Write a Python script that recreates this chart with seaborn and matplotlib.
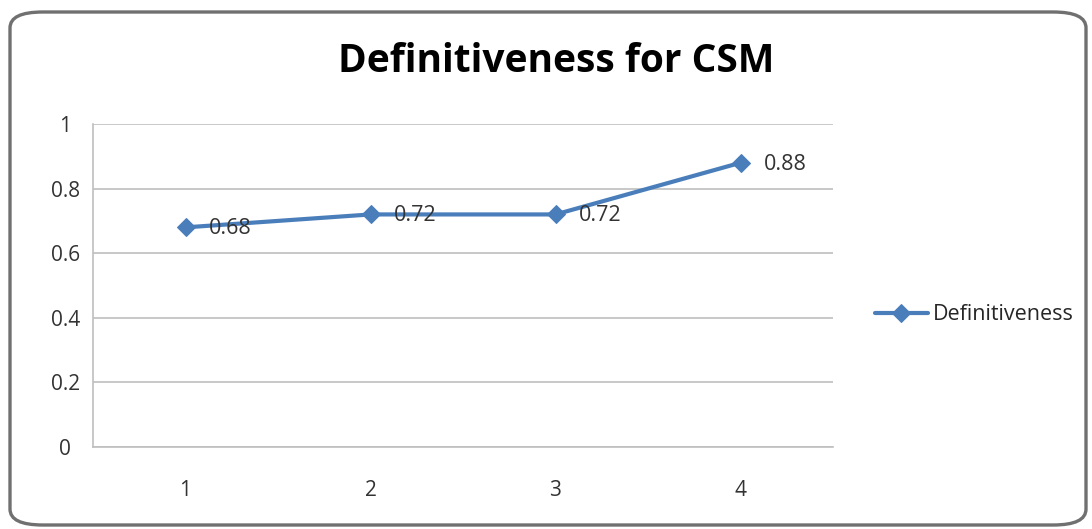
import seaborn as sns
import matplotlib.pyplot as plt
import pandas as pd
from matplotlib.patches import FancyBboxPatch

categories = ['1', '2', '3', '4']
definitiveness = [0.68, 0.72, 0.72, 0.88]
y_ticks = [0, 0.2, 0.4, 0.6, 0.8, 1]
y_labels = ['0', '0.2', '0.4', '0.6', '0.8', '1']

df = pd.DataFrame({'Run': categories, 'Definitiveness': definitiveness})

sns.set_style('white')
plt.rcParams['font.family'] = ['Open Sans', 'DejaVu Sans']

blue = '#4a7ebb'
fig = plt.figure(figsize=(10.92, 5.29), dpi=100)
ax = fig.add_axes([93 / 1092, 1 - 447 / 529, 740 / 1092, 323 / 529])

# rounded outer frame like the Excel chart area
frame = FancyBboxPatch((10 / 1092, 4 / 529), 1076 / 1092, 513 / 529,
                       boxstyle='round,pad=0,rounding_size=0.03',
                       transform=fig.transFigure, fill=False,
                       edgecolor='#707070', linewidth=2.4, zorder=0)
fig.patches.append(frame)

sns.lineplot(data=df, x='Run', y='Definitiveness', ax=ax, color=blue,
             linewidth=3, marker='D', markersize=9, markeredgecolor=blue,
             label='Definitiveness', sort=False)

for i, v in enumerate(definitiveness):
    ax.annotate(f'{v:.2f}', (i, v), xytext=(17, -1), textcoords='offset points',
                ha='left', va='center', fontsize=15.5, color='#333333')

ax.set_xlim(-0.5, 3.5)
ax.set_ylim(0, 1)
ax.set_yticks(y_ticks)
ax.set_yticklabels(y_labels, ha='center')
ax.yaxis.grid(True, color='#bfbfbf', linewidth=1.2)
ax.set_axisbelow(True)
for s in ['top', 'right']:
    ax.spines[s].set_visible(False)
for s in ['left', 'bottom']:
    ax.spines[s].set_color('#bfbfbf')
    ax.spines[s].set_linewidth(1.2)
ax.tick_params(axis='both', labelsize=15, colors='#333333', length=0)
ax.tick_params(axis='x', pad=24)
ax.tick_params(axis='y', pad=20)
ax.set_xlabel('')
ax.set_ylabel('')

fig.text(556 / 1092, 1 - 62 / 529, 'Definitiveness for CSM', ha='center', va='center',
         fontsize=28, fontweight='bold', color='black')

ax.legend(loc='center left', bbox_to_anchor=(1.03, 0.41), frameon=False,
          fontsize=15.5, handlelength=2.5, handletextpad=0.2)

fig.savefig('out.png', dpi=100)
